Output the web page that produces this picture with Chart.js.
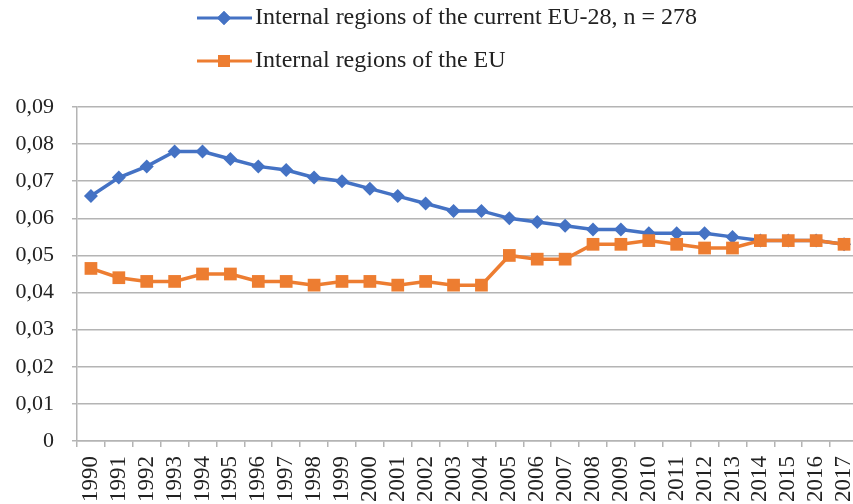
<!DOCTYPE html>
<html>
<head>
<meta charset="utf-8">
<script src="https://cdn.jsdelivr.net/npm/chart.js@4/dist/chart.umd.min.js"></script>
<style>
  html, body { margin: 0; padding: 0; overflow: hidden; background: #ffffff; width: 853px; height: 504px; }
  #wrap { width: 881px; height: 504px; }
</style>
</head>
<body>
<div id="wrap"><canvas id="c" width="881" height="504"></canvas></div>
<script>
const years = ['1990','1991','1992','1993','1994','1995','1996','1997','1998','1999','2000','2001','2002','2003','2004','2005','2006','2007','2008','2009','2010','2011','2012','2013','2014','2015','2016','2017'];
const seriesNames = ['Internal regions of the current EU-28, n = 278', 'Internal regions of the EU'];
const eu28Values = [0.066,0.071,0.074,0.078,0.078,0.076,0.074,0.073,0.071,0.070,0.068,0.066,0.064,0.062,0.062,0.060,0.059,0.058,0.057,0.057,0.056,0.056,0.056,0.055,0.054,0.054,0.054,0.053];
const euValues = [0.0465,0.044,0.043,0.043,0.045,0.045,0.043,0.043,0.042,0.043,0.043,0.042,0.043,0.042,0.042,0.050,0.049,0.049,0.053,0.053,0.054,0.053,0.052,0.052,0.054,0.054,0.054,0.053];
const yTicks = [0,0.01,0.02,0.03,0.04,0.05,0.06,0.07,0.08,0.09];

const BLUE = '#4472C4';
const ORANGE = '#ED7D31';
const FONT = '"Liberation Serif", "Times New Roman", serif';
const TEXT = '#222222';
const GRID = '#b4b4b4';

const legendPlugin = {
  id: 'customLegend',
  afterDraw(chart) {
    const ctx = chart.ctx;
    const items = [
      { name: seriesNames[0], color: BLUE, style: 'rectRot', r: 7, y: 18 },
      { name: seriesNames[1], color: ORANGE, style: 'rect', r: 8.5, y: 61 }
    ];
    ctx.save();
    items.forEach(it => {
      ctx.strokeStyle = it.color;
      ctx.lineWidth = 3;
      ctx.beginPath();
      ctx.moveTo(197, it.y);
      ctx.lineTo(252, it.y);
      ctx.stroke();
      ctx.fillStyle = it.color;
      Chart.helpers.drawPoint(ctx, { pointStyle: it.style, radius: it.r, borderWidth: 0 }, 224, it.y);
      ctx.fill();
      ctx.fillStyle = TEXT;
      ctx.font = '24px ' + FONT;
      ctx.textAlign = 'left';
      ctx.textBaseline = 'middle';
      ctx.fillText(it.name, 255, it.y);
    });
    ctx.restore();
  }
};

new Chart(document.getElementById('c'), {
  type: 'line',
  data: {
    labels: years,
    datasets: [
      {
        label: seriesNames[0],
        data: eu28Values,
        borderColor: BLUE,
        backgroundColor: BLUE,
        borderWidth: 3.5,
        pointStyle: 'rectRot',
        pointRadius: 7,
        pointBorderWidth: 0,
        pointHoverRadius: 7,
        tension: 0,
        order: 2
      },
      {
        label: seriesNames[1],
        data: euValues,
        borderColor: ORANGE,
        backgroundColor: ORANGE,
        borderWidth: 3.5,
        pointStyle: 'rect',
        pointRadius: 9,
        pointBorderWidth: 0,
        pointHoverRadius: 9,
        tension: 0,
        order: 1
      }
    ]
  },
  options: {
    responsive: false,
    animation: false,
    events: [],
    layout: { padding: { top: 107, left: 0, right: 20, bottom: 0 } },
    plugins: { legend: { display: false }, tooltip: { enabled: false } },
    scales: {
      x: {
        type: 'category',
        offset: true,
        afterFit(scale) { scale.height = 63; },
        grid: {
          display: true,
          offset: true,
          drawOnChartArea: false,
          drawTicks: true,
          tickLength: 6,
          color: GRID,
          lineWidth: 1.5
        },
        border: { display: true, color: GRID, width: 1.5 },
        ticks: {
          autoSkip: false,
          maxRotation: 90,
          minRotation: 90,
          padding: 9,
          color: TEXT,
          font: { family: FONT, size: 23 }
        }
      },
      y: {
        min: 0,
        max: 0.09,
        afterFit(scale) { scale.width = 77; },
        afterBuildTicks(scale) { scale.ticks = yTicks.map(v => ({ value: v })); },
        grid: {
          color: GRID,
          lineWidth: 1.5,
          drawTicks: true,
          tickLength: 5
        },
        border: { display: true, color: GRID, width: 1.5 },
        ticks: {
          padding: 18,
          color: TEXT,
          font: { family: FONT, size: 22 },
          callback(v) { return v === 0 ? '0' : Number(v).toFixed(2).replace('.', ','); }
        }
      }
    }
  },
  plugins: [legendPlugin]
});
</script>
</body>
</html>
